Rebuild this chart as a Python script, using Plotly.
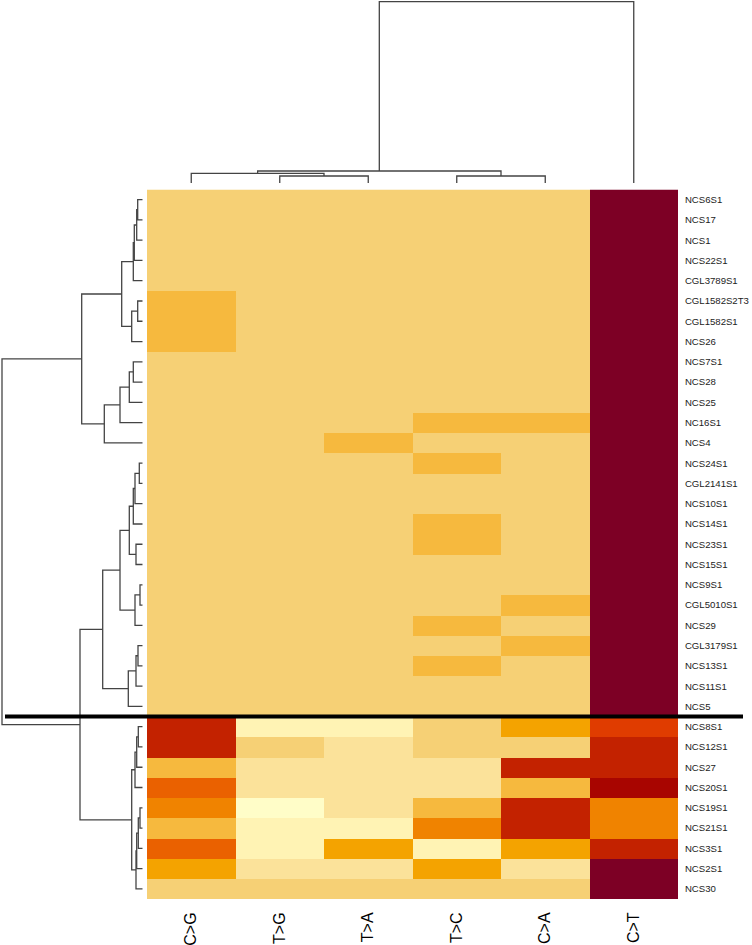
import plotly.graph_objects as go

# columns (mutation types) and rows (samples), in dendrogram order
mutations = ["C>G", "T>G", "T>A", "T>C", "C>A", "C>T"]
samples = [
    "NCS6S1", "NCS17", "NCS1", "NCS22S1", "CGL3789S1", "CGL1582S2T3", "CGL1582S1",
    "NCS26", "NCS7S1", "NCS28", "NCS25", "NC16S1", "NCS4", "NCS24S1", "CGL2141S1",
    "NCS10S1", "NCS14S1", "NCS23S1", "NCS15S1", "NCS9S1", "CGL5010S1", "NCS29",
    "CGL3179S1", "NCS13S1", "NCS11S1", "NCS5",
    "NCS8S1", "NCS12S1", "NCS27", "NCS20S1", "NCS19S1", "NCS21S1", "NCS3S1",
    "NCS2S1", "NCS30",
]

# binned level per cell (0 = lowest, 11 = highest), columns as in `mutations`
levels = [
    [3, 3, 3, 3, 3, 11],   # NCS6S1
    [3, 3, 3, 3, 3, 11],   # NCS17
    [3, 3, 3, 3, 3, 11],   # NCS1
    [3, 3, 3, 3, 3, 11],   # NCS22S1
    [3, 3, 3, 3, 3, 11],   # CGL3789S1
    [4, 3, 3, 3, 3, 11],   # CGL1582S2T3
    [4, 3, 3, 3, 3, 11],   # CGL1582S1
    [4, 3, 3, 3, 3, 11],   # NCS26
    [3, 3, 3, 3, 3, 11],   # NCS7S1
    [3, 3, 3, 3, 3, 11],   # NCS28
    [3, 3, 3, 3, 3, 11],   # NCS25
    [3, 3, 3, 4, 4, 11],   # NC16S1
    [3, 3, 4, 3, 3, 11],   # NCS4
    [3, 3, 3, 4, 3, 11],   # NCS24S1
    [3, 3, 3, 3, 3, 11],   # CGL2141S1
    [3, 3, 3, 3, 3, 11],   # NCS10S1
    [3, 3, 3, 4, 3, 11],   # NCS14S1
    [3, 3, 3, 4, 3, 11],   # NCS23S1
    [3, 3, 3, 3, 3, 11],   # NCS15S1
    [3, 3, 3, 3, 3, 11],   # NCS9S1
    [3, 3, 3, 3, 4, 11],   # CGL5010S1
    [3, 3, 3, 4, 3, 11],   # NCS29
    [3, 3, 3, 3, 4, 11],   # CGL3179S1
    [3, 3, 3, 4, 3, 11],   # NCS13S1
    [3, 3, 3, 3, 3, 11],   # NCS11S1
    [3, 3, 3, 3, 3, 11],   # NCS5
    [9, 1, 1, 3, 5, 8],    # NCS8S1
    [9, 3, 2, 3, 3, 9],    # NCS12S1
    [4, 2, 2, 2, 9, 9],    # NCS27
    [7, 2, 2, 2, 4, 10],   # NCS20S1
    [6, 0, 2, 4, 9, 6],    # NCS19S1
    [4, 1, 1, 6, 9, 6],    # NCS21S1
    [7, 1, 5, 1, 5, 9],    # NCS3S1
    [5, 2, 2, 5, 2, 11],   # NCS2S1
    [3, 3, 3, 3, 3, 11],   # NCS30
]

level_colors = [
    "#FFFDC8", "#FFF3B4", "#FBE29A", "#F6D075", "#F6B93E", "#F4A300",
    "#F08300", "#EA6100", "#E03C00", "#C32200", "#A80500", "#7D0025",
]

# dendrograms: (left, right, merge height); ints are leaf indices
col_tree = (((0, (1, 2, 7.0), 9.7), (3, 4, 7.0), 12.0), 5, 181.3)

rows_a1 = (((((0, 1, 5.0), 2, 6.0), 3, 8.4), 4, 9.4), ((5, 6, 5.0), 7, 11.0), 21.0)
rows_a2 = ((((8, 9, 9.4), 10, 13.4), 11, 22.7), 12, 38.4)
rows_b1a = (
    ((((13, 14, 3.4), 15, 7.7), 16, 9.4), (17, 18, 6.7), 13.4),
    ((19, 20, 2.7), 21, 7.7),
    22.7,
)
rows_b1b = (((22, 23, 4.7), 24, 6.7), 25, 14.4)
rows_b2 = (
    (((26, 27, 4.4), 28, 6.0), 29, 7.7),
    ((((30, 31, 2.7), 32, 4.4), 33, 6.0), 34, 6.7),
    11.0,
)
row_tree = (
    (rows_a1, rows_a2, 61.0),
    ((rows_b1a, rows_b1b, 40.0), rows_b2, 62.7),
    140.7,
)
split_after = 25  # black separator between NCS5 and NCS8S1


def dendro_segments(tree):
    xs, hs = [], []

    def walk(node):
        if isinstance(node, int):
            return float(node), 0.0
        left, right, h = node
        pl, hl = walk(left)
        pr, hr = walk(right)
        xs.extend([pl, pl, pr, pr, None])
        hs.extend([hl, h, h, hr, None])
        return (pl + pr) / 2, h

    walk(tree)
    return xs, hs


W, H = 752, 945
hm_x = [147 / W, 678 / W]
hm_y = [1 - 899 / H, 1 - 189.5 / H]

fig = go.Figure()

n = len(level_colors)
scale = []
for i, c in enumerate(level_colors):
    scale.append([i / n, c])
    scale.append([(i + 1) / n, c])

fig.add_trace(go.Heatmap(
    z=levels,
    x=list(range(len(mutations))),
    y=list(range(len(samples))),
    colorscale=scale,
    zmin=-0.5, zmax=n - 0.5,
    showscale=False,
    hoverinfo="skip",
))

cx, ch = dendro_segments(col_tree)
fig.add_trace(go.Scatter(
    x=cx, y=ch, mode="lines", xaxis="x2", yaxis="y2",
    line=dict(color="#444444", width=1.3), hoverinfo="skip",
))

rx, rh = dendro_segments(row_tree)
fig.add_trace(go.Scatter(
    x=rh, y=rx, mode="lines", xaxis="x3", yaxis="y3",
    line=dict(color="#444444", width=1.3), hoverinfo="skip",
))

fig.add_shape(
    type="line", xref="paper", yref="y",
    x0=5 / W, x1=743 / W, y0=split_after + 0.5, y1=split_after + 0.5,
    line=dict(color="black", width=4),
)

font = "Arial, Liberation Sans, sans-serif"
fig.update_layout(
    width=W, height=H,
    margin=dict(l=0, r=0, t=0, b=0),
    paper_bgcolor="white", plot_bgcolor="white",
    showlegend=False,
    xaxis=dict(
        domain=hm_x, range=[-0.5, len(mutations) - 0.5], automargin=False,
        tickvals=list(range(len(mutations))), ticktext=mutations,
        tickangle=-90, ticks="outside", ticklen=6, tickcolor="rgba(0,0,0,0)",
        tickfont=dict(family=font, size=16, color="black"),
        showgrid=False, zeroline=False, showline=False,
    ),
    yaxis=dict(
        domain=hm_y, range=[len(samples) - 0.5, -0.5], side="right",
        automargin=False,
        tickvals=list(range(len(samples))), ticktext=samples,
        ticks="outside", ticklen=4, tickcolor="rgba(0,0,0,0)",
        tickfont=dict(family=font, size=9.6, color="#222222"),
        showgrid=False, zeroline=False, showline=False,
    ),
    xaxis2=dict(
        domain=hm_x, range=[-0.5, len(mutations) - 0.5], anchor="y2",
        visible=False,
    ),
    yaxis2=dict(
        domain=[1 - 183 / H, 1.0], range=[0, 183], anchor="x2",
        visible=False,
    ),
    xaxis3=dict(
        domain=[0, 142.7 / W], range=[142.7, 0], anchor="y3",
        visible=False,
    ),
    yaxis3=dict(
        domain=hm_y, range=[len(samples) - 0.5, -0.5], anchor="x3",
        visible=False,
    ),
)

# page body has a default 8px margin; drop it so the figure sits at the corner
fig.write_html(
    "out.html",
    config={"displayModeBar": False},
    post_script="document.body.style.margin='0';document.body.style.overflow='hidden';",
)
